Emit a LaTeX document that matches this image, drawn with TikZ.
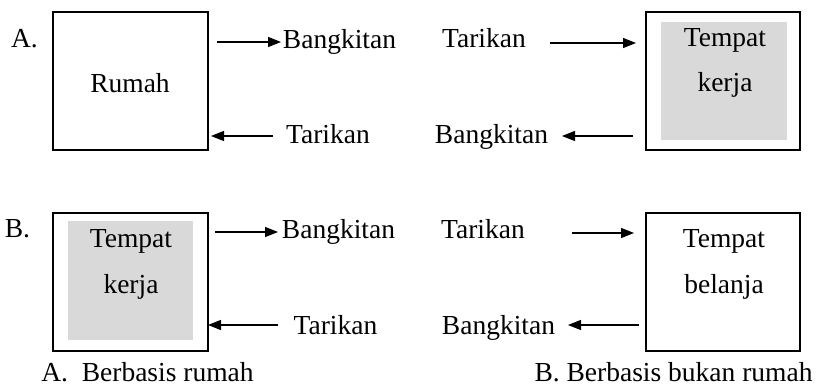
\documentclass[tikz,border=0pt]{standalone}
\usepackage{fontspec}
\setmainfont{Liberation Serif}
\usetikzlibrary{arrows.meta}
\definecolor{shade}{RGB}{217,217,217}
\begin{document}
\begin{tikzpicture}[x=1pt,y=-1pt,
  lbl/.style={anchor=base,inner sep=0pt,font=\fontsize{27.5}{31}\selectfont},
  frame/.style={draw,line width=1.1pt,inner sep=0pt},
  shadebox/.style={fill=shade,inner sep=0pt},
  arr/.style={line width=1.1pt,-{Triangle[length=13pt,width=10pt]}}]
\useasboundingbox (0,0) rectangle (820,387);
% boxes
\node[frame,minimum width=155pt,minimum height=138pt] (boxA1) at (130.5,81) {};
\node[frame,minimum width=154pt,minimum height=138pt] (boxA2) at (723,81) {};
\node[shadebox,minimum width=126pt,minimum height=118pt] (shA2) at (724,81) {};
\node[frame,minimum width=155pt,minimum height=138pt] (boxB1) at (130.5,282) {};
\node[shadebox,minimum width=125pt,minimum height=119pt] (shB1) at (130.5,280.5) {};
\node[frame,minimum width=154pt,minimum height=138pt] (boxB2) at (723,282) {};
% labels row A
\node[lbl] (la) at (24.5,48) {A.};
\node[lbl] (rumah) at (130,93) {Rumah};
\node[lbl] (bangA1) at (339.5,49) {Bangkitan};
\node[lbl] (tarA1) at (328,144) {Tarikan};
\node[lbl] (tarA2) at (484,48) {Tarikan};
\node[lbl] (bangA2) at (491.5,144) {Bangkitan};
\node[lbl] (tempA) at (725,47) {Tempat};
\node[lbl] (kerjaA) at (725,92) {kerja};
% labels row B
\node[lbl] (lb) at (17.5,238) {B.};
\node[lbl] (tempB1) at (131,248) {Tempat};
\node[lbl] (kerjaB1) at (131,294) {kerja};
\node[lbl] (bangB1) at (338.5,239) {Bangkitan};
\node[lbl] (tarB1) at (335.5,335) {Tarikan};
\node[lbl] (tarB2) at (483,239) {Tarikan};
\node[lbl] (bangB2) at (498.5,335) {Bangkitan};
\node[lbl] (tempB2) at (724,248) {Tempat};
\node[lbl] (belanja) at (724,294) {belanja};
% captions
\node[lbl,text depth=0pt] (capA) at (147.5,382) {A.\ \ Berbasis rumah};
\node[lbl,text depth=0pt] (capB) at (673.5,382) {B. Berbasis bukan rumah};
% arrow ends
\coordinate (a1s) at (217,42);
\coordinate (a1e) at (281,42);
\coordinate (a2s) at (273,136);
\coordinate (a2e) at (211,136);
\coordinate (a3s) at (550,43);
\coordinate (a3e) at (636,43);
\coordinate (a4s) at (633,136);
\coordinate (a4e) at (562,136);
\coordinate (b1s) at (215,232);
\coordinate (b1e) at (278,232);
\coordinate (b2s) at (278,325);
\coordinate (b2e) at (208,325);
\coordinate (b3s) at (572,233);
\coordinate (b3e) at (634,233);
\coordinate (b4s) at (639,325);
\coordinate (b4e) at (568,325);
\draw[arr] (a1s) -- (a1e);
\draw[arr] (a2s) -- (a2e);
\draw[arr] (a3s) -- (a3e);
\draw[arr] (a4s) -- (a4e);
\draw[arr] (b1s) -- (b1e);
\draw[arr] (b2s) -- (b2e);
\draw[arr] (b3s) -- (b3e);
\draw[arr] (b4s) -- (b4e);
\end{tikzpicture}
\end{document}
